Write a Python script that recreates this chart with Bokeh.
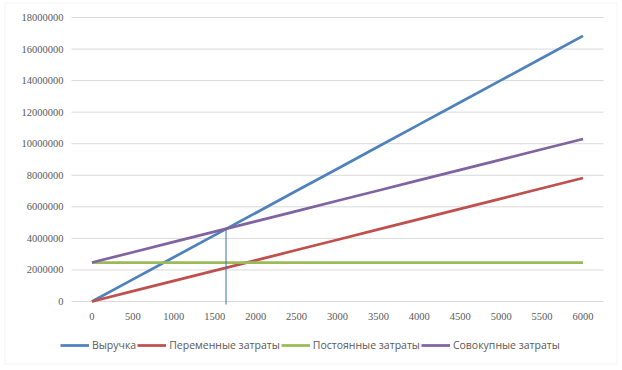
from bokeh.plotting import figure
from bokeh.models import Range1d, Legend, LegendItem, ColumnDataSource, BoxAnnotation
from bokeh.embed import file_html
from bokeh.resources import INLINE

volume = [0, 500, 1000, 1500, 2000, 2500, 3000, 3500, 4000, 4500, 5000, 5500, 6000]
revenue = [0, 1403000, 2806000, 4209000, 5612000, 7015000, 8418000, 9821000,
           11224000, 12627000, 14030000, 15433000, 16836000]
variable_costs = [0, 652500, 1305000, 1957500, 2610000, 3262500, 3915000, 4567500,
                  5220000, 5872500, 6525000, 7177500, 7830000]
fixed_costs = [2470000] * 13
total_costs = [2470000, 3122500, 3775000, 4427500, 5080000, 5732500, 6385000, 7037500,
               7690000, 8342500, 8995000, 9647500, 10300000]
break_even_x = [1638, 1638]
break_even_y = [4630000, -190000]

series_names = ["Выручка", "Переменные затраты", "Постоянные затраты", "Совокупные затраты"]
y_ticks = [0, 2000000, 4000000, 6000000, 8000000, 10000000, 12000000, 14000000, 16000000, 18000000]
x_tick_labels = [str(v) for v in volume]
y_tick_labels = [str(v) for v in y_ticks]

FONT = "Open Sans"
TXT = "#595959"

# category band edges of the plot area
X_LO, X_HI = -250, 6250

p = figure(width=618, height=366, output_backend="svg", toolbar_location=None,
           x_axis_location=None, y_axis_location=None,
           x_range=Range1d(-1117.5, 6433.3), y_range=Range1d(-4119718, 19077465),
           min_border=0)
p.outline_line_color = None
p.background_fill_color = "white"
p.border_fill_color = "white"
p.xgrid.visible = False
p.ygrid.visible = False

# chart border
p.add_layout(BoxAnnotation(left=4.5, right=616.5, top=2.5, bottom=363.5,
                           left_units="screen", right_units="screen",
                           top_units="screen", bottom_units="screen",
                           fill_alpha=0, line_color="#D9D9D9", line_width=1))

# horizontal gridlines
p.segment(x0=[X_LO] * len(y_ticks), x1=[X_HI] * len(y_ticks), y0=y_ticks, y1=y_ticks,
          line_color="#D9D9D9", line_width=1)

# tick labels
p.text(x=[X_LO] * len(y_ticks), y=y_ticks, text=y_tick_labels, x_offset=-8,
       text_align="right", text_baseline="middle", text_font="Open Sans",
       text_font_size="10.5px", text_color=TXT)
p.text(x=volume, y=[0] * len(volume), text=x_tick_labels, y_offset=15,
       text_align="center", text_baseline="middle", text_font="Open Sans",
       text_font_size="10.5px", text_color=TXT)

src = ColumnDataSource(dict(x=volume, rev=revenue, var=variable_costs, fix=fixed_costs, tot=total_costs))
colors = ["#4F81BD", "#C0504D", "#9BBB59", "#8064A2"]
r1 = p.line("x", "rev", source=src, line_color=colors[0], line_width=2.75)
r2 = p.line("x", "var", source=src, line_color=colors[1], line_width=2.75)
r3 = p.line("x", "fix", source=src, line_color=colors[2], line_width=2.75)
r4 = p.line("x", "tot", source=src, line_color=colors[3], line_width=2.75)
p.line(break_even_x, break_even_y, line_color="#3F6FAE", line_width=1)

legend = Legend(items=[LegendItem(label=n, renderers=[r]) for n, r in zip(series_names, [r1, r2, r3, r4])],
                orientation="horizontal", location=(60, 14),
                glyph_width=29, glyph_height=14, label_height=14, label_standoff=3,
                spacing=1, padding=0, margin=0,
                label_text_font=FONT, label_text_font_size="10.5px", label_text_color=TXT,
                border_line_color=None, background_fill_alpha=0)
p.add_layout(legend, "center")

open("out.html", "w").write(file_html(p, INLINE))
